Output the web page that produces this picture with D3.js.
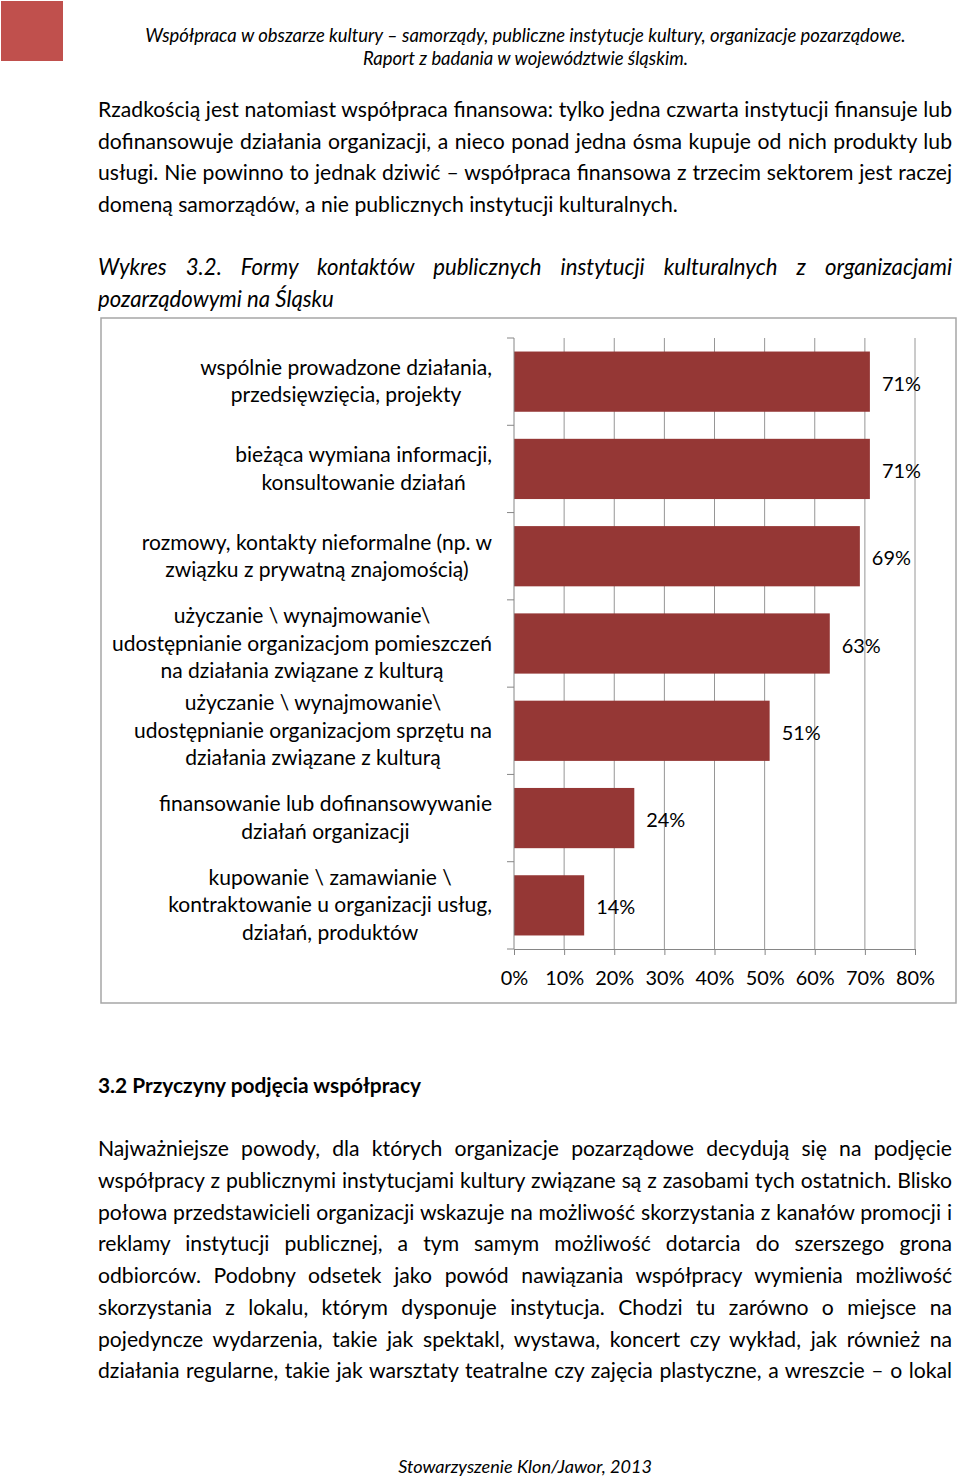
<!DOCTYPE html>
<html><head><meta charset="utf-8">
<script src="https://cdn.jsdelivr.net/npm/d3@7"></script>
<style>body{margin:0;background:#fff}svg{display:block}</style>
</head><body>
<svg id="page" width="960" height="1478"></svg>
<script>
// ---------- data ----------
const categories = [
  "wspólnie prowadzone działania,|przedsięwzięcia, projekty",
  "bieżąca wymiana informacji,|konsultowanie działań",
  "rozmowy, kontakty nieformalne (np. w|związku z prywatną znajomością)",
  "użyczanie \\ wynajmowanie\\|udostępnianie organizacjom pomieszczeń|na działania związane z kulturą",
  "użyczanie \\ wynajmowanie\\|udostępnianie organizacjom sprzętu na|działania związane z kulturą",
  "finansowanie lub dofinansowywanie|działań organizacji",
  "kupowanie \\ zamawianie \\|kontraktowanie u organizacji usług,|działań, produktów"
];
const values = [71, 71, 69, 63, 51, 24, 14];
const tickValues = [0, 10, 20, 30, 40, 50, 60, 70, 80];
const tickLabels = ["0%", "10%", "20%", "30%", "40%", "50%", "60%", "70%", "80%"];

const headerLines = [
  "Współpraca w obszarze kultury – samorządy, publiczne instytucje kultury, organizacje pozarządowe.",
  "Raport z badania w województwie śląskim."
];
const para1 = [
  "Rzadkością jest natomiast współpraca finansowa: tylko jedna czwarta instytucji finansuje lub",
  "dofinansowuje działania organizacji, a nieco ponad jedna ósma kupuje od nich produkty lub",
  "usługi. Nie powinno to jednak dziwić – współpraca finansowa z trzecim sektorem jest raczej",
  "domeną samorządów, a nie publicznych instytucji kulturalnych."
];
const captionLines = [
  "Wykres 3.2. Formy kontaktów publicznych instytucji kulturalnych z organizacjami",
  "pozarządowymi na Śląsku"
];
const heading = "3.2 Przyczyny podjęcia współpracy";
const para2 = [
  "Najważniejsze powody, dla których organizacje pozarządowe decydują się na podjęcie",
  "współpracy z publicznymi instytucjami kultury związane są z zasobami tych ostatnich. Blisko",
  "połowa przedstawicieli organizacji wskazuje na możliwość skorzystania z kanałów promocji i",
  "reklamy instytucji publicznej, a tym samym możliwość dotarcia do szerszego grona",
  "odbiorców. Podobny odsetek jako powód nawiązania współpracy wymienia możliwość",
  "skorzystania z lokalu, którym dysponuje instytucja. Chodzi tu zarówno o miejsce na",
  "pojedyncze wydarzenia, takie jak spektakl, wystawa, koncert czy wykład, jak również na",
  "działania regularne, takie jak warsztaty teatralne czy zajęcia plastyczne, a wreszcie – o lokal"
];
const footer = "Stowarzyszenie Klon/Jawor, 2013";

// ---------- helpers ----------
const FONT = "Lato, 'Open Sans', sans-serif";
const svg = d3.select("#page");
svg.append("rect").attr("width", 960).attr("height", 1478).attr("fill", "#fff");

function measure(text, size, style, weight) {
  const t = svg.append("text").attr("font-family", FONT).attr("font-size", size)
    .attr("font-style", style || "normal").attr("font-weight", weight || "normal").text(text);
  const w = t.node().getComputedTextLength();
  t.remove();
  return w;
}
function fit(text, target, style, weight) {
  return 20 * target / measure(text, 20, style, weight);
}
function line(text, x0, x1, y, size, opts) {
  opts = opts || {};
  const t = svg.append("text").attr("font-family", FONT).attr("font-size", size)
    .attr("font-style", opts.style || "normal").attr("font-weight", opts.weight || "normal")
    .attr("fill", "#000").attr("y", y).text(text);
  if (opts.center) {
    t.attr("x", (x0 + x1) / 2).attr("text-anchor", "middle");
  } else {
    t.attr("x", x0);
    if (opts.justify) {
      const w = t.node().getComputedTextLength();
      const n = (text.match(/ /g) || []).length;
      if (n) t.style("word-spacing", ((x1 - x0 - w) / n) + "px");
    }
  }
  return t;
}

// ---------- page furniture ----------
svg.append("rect").attr("x", 1).attr("y", 1).attr("width", 62).attr("height", 60).attr("fill", "#c0504d");

const hSize = fit(headerLines[0], 761, "italic");
line(headerLines[0], 145, 906, 42, hSize, {style: "italic", center: true});
line(headerLines[1], 145, 906, 65, hSize, {style: "italic", center: true});

const bodySize = fit(para1[3], 580);
const L = 98, R = 952;
para1.forEach((s, i) => line(s, L, R, 117 + i * 31.7, bodySize, {justify: i < 3}));

const capSize = fit(captionLines[1], 236, "italic");
line(captionLines[0], L, R, 275, capSize, {style: "italic", justify: true});
line(captionLines[1], L, R, 307, capSize, {style: "italic"});

const headSize = fit(heading, 323, "normal", "bold");
line(heading, L, R, 1093, headSize, {weight: "bold"});

para2.forEach((s, i) => line(s, L, R, 1156 + i * 31.75, bodySize, {justify: true}));

const footSize = fit(footer, 254, "italic");
line(footer, 398, 652, 1473, footSize, {style: "italic", center: true});

// ---------- chart ----------
svg.append("rect").attr("x", 101).attr("y", 318).attr("width", 855).attr("height", 685)
  .attr("fill", "#fff").attr("stroke", "#a6a6a6").attr("stroke-width", 1.5);

const x = d3.scaleLinear().domain([0, 80]).range([514, 915]);
const y = d3.scaleBand().domain(d3.range(categories.length)).range([338, 949])
  .paddingInner(0.31).paddingOuter(0.155);
const yEdges = d3.scaleLinear().domain([0, categories.length]).range([338, 949]);

const g = svg.append("g");
// gridlines
g.selectAll("line.grid").data(tickValues.slice(1)).join("line")
  .attr("x1", d => x(d)).attr("x2", d => x(d)).attr("y1", 338).attr("y2", 949)
  .attr("stroke", "#969696").attr("stroke-width", 1);

// bars
g.selectAll("rect.bar").data(values).join("rect")
  .attr("x", x(0)).attr("y", (d, i) => y(i))
  .attr("width", d => x(d) - x(0)).attr("height", y.bandwidth())
  .attr("fill", "#953735");

// y axis (left) with category boundary ticks
g.append("line").attr("x1", 514).attr("x2", 514).attr("y1", 338).attr("y2", 949)
  .attr("stroke", "#868686");
g.selectAll("line.ytick").data(d3.range(categories.length + 1)).join("line")
  .attr("x1", 507).attr("x2", 514).attr("y1", d => yEdges(d)).attr("y2", d => yEdges(d))
  .attr("stroke", "#868686");

// x axis
const tickSize = fit("80%", 39);
const xAxis = d3.axisBottom(x).tickValues(tickValues).tickFormat((d, i) => tickLabels[i])
  .tickSizeInner(6).tickSizeOuter(0).tickPadding(15);
const ax = svg.append("g").attr("transform", "translate(0,949)").call(xAxis);
ax.select(".domain").attr("stroke", "#868686");
ax.selectAll(".tick line").attr("stroke", "#868686");
ax.selectAll(".tick text").attr("font-family", FONT).attr("font-size", tickSize)
  .attr("fill", "#000").attr("dy", 0).attr("y", 36);

// value labels
g.selectAll("text.val").data(values).join("text")
  .attr("x", d => x(d) + 12).attr("y", (d, i) => y(i) + y.bandwidth() / 2 + 9)
  .attr("font-family", FONT).attr("font-size", tickSize).attr("fill", "#000")
  .text(d => d + "%");

// category labels
const catSize = fit("wspólnie prowadzone działania,", 292);
categories.forEach((c, i) => {
  const parts = c.split("|");
  const maxW = d3.max(parts, p => measure(p, catSize));
  const cx = 492 - maxW / 2;
  const cy = y(i) + y.bandwidth() / 2;
  parts.forEach((p, k) => {
    svg.append("text").attr("x", cx).attr("text-anchor", "middle")
      .attr("y", cy + (k - (parts.length - 1) / 2) * 27.4 + 7)
      .attr("font-family", FONT).attr("font-size", catSize).attr("fill", "#000").text(p);
  });
});
</script>
</body></html>
